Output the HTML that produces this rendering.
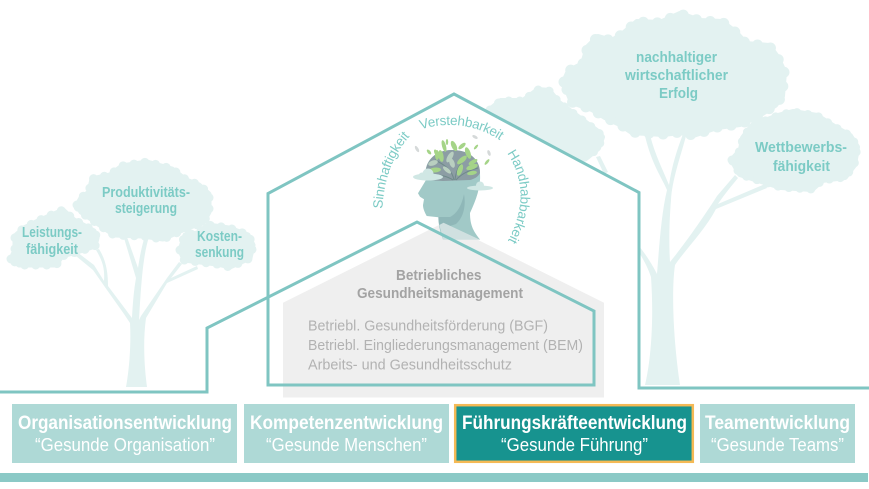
<!DOCTYPE html>
<html><head><meta charset="utf-8"><style>
html,body{margin:0;padding:0;background:#fff}
svg{display:block}
text{font-family:"Liberation Sans",sans-serif}
.t{fill:#7ccbc5;font-weight:700;font-size:14.5px}
.c{fill:#a3a3a3;font-weight:700;font-size:14.5px}
.g{fill:#b2b2b2;font-size:15px}
.h{fill:#fff;font-weight:700;font-size:19px}
.s{fill:#fff;font-size:18px}
.a{fill:#7ccbc5;font-size:13.5px}
.b{stroke:#e3f2f1;stroke-linecap:round;stroke-width:9;stroke-dasharray:0 11;fill:none}
.bb{stroke:#e3f2f1;stroke-linecap:round;stroke-width:11;stroke-dasharray:0 14;fill:none}
</style></head><body>
<svg width="869" height="489" viewBox="0 0 869 489" xmlns="http://www.w3.org/2000/svg">
<rect width="869" height="489" fill="#fff"/>

<!-- left tree -->
<g fill="#e3f2f1">
<path d="M126,387 C130,365 131,340 130,323 L124,314 L107,290 L93,270 L76,256 L77,252 L94,265 L104,281 C105,268 102,260 96,250 L99,249 C106,260 108,272 108,286 L132,318 C133,300 134,290 136,278 L124,238 L127,237 L138,268 C140,255 142,245 145,236 L149,237 C143,255 141,285 139,320 L141,316 L167,278 L179,262 L182,264 L171,278 L197,266 L198,269 L167,283 L146,318 C143,340 144,365 147,387 Z"/>
<g stroke="#e3f2f1" stroke-width="5" stroke-linejoin="round">
<polygon points="77,205 81,198 89,192 92,179 110,175 122,166 147,162 172,169 186,180 199,185 209,194 209,212 203,223 187,228 163,239 143,236 114,235 101,226 81,212"/>
<polygon points="11,259 15,250 15,236 24,228 38,221 63,210 74,220 94,231 97,238 95,246 80,251 62,256 56,265 33,265 19,265"/>
<polygon points="180,250 185,235 198,233 208,225 229,228 248,235 253,245 250,258 230,267 217,264 200,262 184,260"/>
</g>
<polygon class="b" points="77,205 81,198 89,192 92,179 110,175 122,166 147,162 172,169 186,180 199,185 209,194 209,212 203,223 187,228 163,239 143,236 114,235 101,226 81,212"/>
<polygon class="b" points="11,259 15,250 15,236 24,228 38,221 63,210 74,220 94,231 97,238 95,246 80,251 62,256 56,265 33,265 19,265"/>
<polygon class="b" points="180,250 185,235 198,233 208,225 229,228 248,235 253,245 250,258 230,267 217,264 200,262 184,260"/>

<!-- big tree -->
<path d="M645,385 C651,360 654,320 651,277 C648,268 643,258 636,248 L638,245 C644,252 651,262 657,274 C659,250 661,215 667,190 C662,178 652,165 645,136 L650,135 C655,155 663,170 669,185 C672,165 677,150 683,134 L686,136 C681,155 672,180 671,200 C669,225 669,245 670,262 C684,245 705,215 717,196 L735,175 L738,178 C728,190 722,198 718,204 L765,184 L767,188 L716,209 C705,230 685,250 675,265 C672,285 672,330 680,385 Z"/>
<g stroke="#e3f2f1" stroke-width="6" stroke-linejoin="round">
<polygon points="564,82 569,71 583,64 588,47 598,37 612,41 623,34 637,22 660,23 680,14 700,21 722,22 736,33 746,44 769,46 777,57 784,72 782,96 775,105 756,117 740,124 717,127 693,135 680,132 663,134 632,132 620,124 605,117 592,109 572,102"/>
<polygon points="732,160 741,150 743,138 752,126 778,116 793,112 817,116 836,128 850,136 857,147 854,165 845,177 822,180 812,189 781,187 758,180 740,174"/>
<polygon points="490,110 501,101 523,101 538,90 549,91 559,103 598,132 602,137 598,148 587,157 540,160 490,140"/>
</g>
<polygon class="bb" points="564,82 569,71 583,64 588,47 598,37 612,41 623,34 637,22 660,23 680,14 700,21 722,22 736,33 746,44 769,46 777,57 784,72 782,96 775,105 756,117 740,124 717,127 693,135 680,132 663,134 632,132 620,124 605,117 592,109 572,102"/>
<polygon class="b" points="732,160 741,150 743,138 752,126 778,116 793,112 817,116 836,128 850,136 857,147 854,165 845,177 822,180 812,189 781,187 758,180 740,174"/>
<polygon class="b" points="490,110 501,101 523,101 538,90 549,91 559,103 598,132 602,137 598,148 587,157 540,160 490,140"/>
<path d="M596,157 L600,156 L608,172 L604,174 Z"/>
</g>

<!-- white house interiors mask tree -->
<polygon points="268,193 454,94 639,192 639,388 268,388" fill="#fff"/>

<!-- gray house -->
<polygon points="283,302.7 443.5,222.7 604,302.7 604,397.5 283,397.5" fill="#efefef"/>

<!-- head -->
<path d="M425.5,172 C426,160 436,150 452,150 C470,150 480,160 480,173 C481,187 476,200 470,213 C470,226 474,232 480,239.5 L443,239.5 C440,232 438.5,225 438.3,217.3 L426.7,216 C424,211 423,208 423,205 L424,199.3 L420,196.7 L418,193.3 L423,185 L426,180 Z" fill="#a1c9c7"/>
<path d="M425.5,173 C426,160 436,150 452,150 C470,150 480,160 480,173 C478,177 474,179 470,180 L443,181 L427,180 Z" fill="#8c9da4"/>
<path d="M438.5,217 L450,217 C458,213 462,204 464,194 C466,205 464,217 456,224 L447,227 L440,228 C439,224 438.5,221 438.5,217 Z" fill="#8fb7b8"/>
<polygon points="439.3,225 443.5,222.7 480,239.8 443,239.8 441.5,233" fill="#d0e0e0"/>
<g fill="none" stroke="#6f8a8a" stroke-width="1"><path d="M454,180 C452,170 445,165 435,160"/><path d="M455,180 C456,168 462,160 470,155"/><path d="M456,180 C462,173 470,170 478,168"/><path d="M453,180 C447,176 440,175 432,174"/></g>
<g fill="#a5d488">
<ellipse cx="444" cy="146" rx="2" ry="6" transform="rotate(-15 444 146)"/><ellipse cx="454" cy="146" rx="2.5" ry="5.5" transform="rotate(-25 454 146)"/><ellipse cx="462" cy="146" rx="2" ry="4.5" transform="rotate(50 462 146)"/><ellipse cx="437" cy="154" rx="2" ry="5" transform="rotate(-30 437 154)"/><ellipse cx="468" cy="153" rx="2.5" ry="6" transform="rotate(-20 468 153)"/><ellipse cx="472" cy="167" rx="2.5" ry="6" transform="rotate(70 472 167)"/><ellipse cx="472" cy="173" rx="2" ry="5" transform="rotate(80 472 173)"/><ellipse cx="435" cy="170" rx="2.5" ry="6" transform="rotate(85 435 170)"/><ellipse cx="462" cy="160" rx="2.5" ry="6" transform="rotate(50 462 160)"/><ellipse cx="460" cy="170" rx="2.5" ry="6" transform="rotate(20 460 170)"/><ellipse cx="437" cy="155" rx="2" ry="5"/><ellipse cx="441" cy="156" rx="2.5" ry="6" transform="rotate(-10 441 156)"/><ellipse cx="473" cy="162" rx="2" ry="5" transform="rotate(60 473 162)"/><ellipse cx="429" cy="152" rx="1.5" ry="3" transform="rotate(-40 429 152)"/><ellipse cx="447" cy="142" rx="1.2" ry="3"/><ellipse cx="476" cy="147" rx="1.2" ry="3" transform="rotate(40 476 147)"/><ellipse cx="487" cy="162" rx="1.3" ry="3.5" transform="rotate(40 487 162)"/></g>
<g fill="#b9cfc0"><ellipse cx="433" cy="163" rx="2.5" ry="5" transform="rotate(70 433 163)"/><ellipse cx="450" cy="157" rx="2.5" ry="6" transform="rotate(30 450 157)"/><ellipse cx="452" cy="163" rx="2.5" ry="5" transform="rotate(-20 452 163)"/><ellipse cx="447" cy="170" rx="2" ry="5" transform="rotate(-50 447 170)"/></g>
<g fill="#d0e7e4"><ellipse cx="428" cy="177" rx="15" ry="3.5"/><circle cx="428" cy="174" r="5.5"/><circle cx="422" cy="176" r="3.5"/><ellipse cx="480" cy="188" rx="13" ry="2.5"/><circle cx="480" cy="185.5" r="4"/></g>
<g fill="#d5d9d9"><ellipse cx="417" cy="149" rx="1.5" ry="3.5" transform="rotate(-30 417 149)"/><ellipse cx="475" cy="137" rx="3" ry="1.5" transform="rotate(30 475 137)"/><ellipse cx="489" cy="153" rx="1.5" ry="3" transform="rotate(-20 489 153)"/></g>

<!-- curved labels -->
<defs>
<path id="p1" d="M382.3,209 Q385,160 414,132"/>
<path id="p2" d="M421,129.5 A91,91 0 0 1 510,148"/>
<path id="p3" d="M507,153 Q535,195 505,246"/>
</defs>
<text class="a" letter-spacing="-0.15"><textPath href="#p1">Sinnhaftigkeit</textPath></text>
<text class="a" letter-spacing="-0.3"><textPath href="#p2">Verstehbarkeit</textPath></text>
<text class="a" letter-spacing="-0.2"><textPath href="#p3">Handhabbarkeit</textPath></text>

<!-- lines -->
<g fill="none" stroke="#7fc5c2" stroke-width="3" stroke-linejoin="miter">
<path d="M0,392 H207 V328 L417,222 L594,311 V385 H268 V193.5 L454,94 L639,192.5 V388 H869"/>
</g>

<!-- tree labels -->
<text class="t" x="102" y="197" textLength="88" lengthAdjust="spacingAndGlyphs">Produktivitäts-</text>
<text class="t" x="115" y="213" textLength="62" lengthAdjust="spacingAndGlyphs">steigerung</text>
<text class="t" x="22" y="237" textLength="60" lengthAdjust="spacingAndGlyphs">Leistungs-</text>
<text class="t" x="26" y="254" textLength="52" lengthAdjust="spacingAndGlyphs">fähigkeit</text>
<text class="t" x="197" y="241" textLength="45" lengthAdjust="spacingAndGlyphs">Kosten-</text>
<text class="t" x="195" y="257" textLength="49" lengthAdjust="spacingAndGlyphs">senkung</text>
<text class="t" x="636" y="62" textLength="81" lengthAdjust="spacingAndGlyphs">nachhaltiger</text>
<text class="t" x="625" y="80" textLength="103" lengthAdjust="spacingAndGlyphs">wirtschaftlicher</text>
<text class="t" x="659" y="98" textLength="39" lengthAdjust="spacingAndGlyphs">Erfolg</text>
<text class="t" x="755" y="152" textLength="92" lengthAdjust="spacingAndGlyphs">Wettbewerbs-</text>
<text class="t" x="773" y="171" textLength="57" lengthAdjust="spacingAndGlyphs">fähigkeit</text>

<!-- center labels -->
<text class="c" x="396" y="280" textLength="85.5" lengthAdjust="spacingAndGlyphs">Betriebliches</text>
<text class="c" x="357" y="298" textLength="166" lengthAdjust="spacingAndGlyphs">Gesundheitsmanagement</text>
<text class="g" x="308" y="330.5" textLength="240" lengthAdjust="spacingAndGlyphs">Betriebl. Gesundheitsförderung (BGF)</text>
<text class="g" x="308" y="350" textLength="275" lengthAdjust="spacingAndGlyphs">Betriebl. Eingliederungsmanagement (BEM)</text>
<text class="g" x="308" y="369.5" textLength="204" lengthAdjust="spacingAndGlyphs">Arbeits- und Gesundheitsschutz</text>

<!-- boxes -->
<rect x="12" y="404" width="225" height="59" fill="#aed9d6"/>
<rect x="244" y="404" width="205" height="59" fill="#aed9d6"/>
<rect x="455.2" y="405.2" width="237.6" height="56.6" fill="#17938f" stroke="#f5b955" stroke-width="2.5"/>
<rect x="700" y="404" width="155" height="59" fill="#aed9d6"/>
<rect x="0" y="473" width="868" height="9" fill="#8bc9c6"/>

<text class="h" x="18" y="429" textLength="214" lengthAdjust="spacingAndGlyphs">Organisationsentwicklung</text>
<text class="s" x="35" y="451" textLength="180" lengthAdjust="spacingAndGlyphs">“Gesunde Organisation”</text>
<text class="h" x="250" y="429" textLength="193" lengthAdjust="spacingAndGlyphs">Kompetenzentwicklung</text>
<text class="s" x="266" y="451" textLength="161" lengthAdjust="spacingAndGlyphs">“Gesunde Menschen”</text>
<text class="h" x="462" y="429" textLength="225" lengthAdjust="spacingAndGlyphs">Führungskräfteentwicklung</text>
<text class="s" x="501" y="451" textLength="147" lengthAdjust="spacingAndGlyphs">“Gesunde Führung”</text>
<text class="h" x="705" y="429" textLength="145" lengthAdjust="spacingAndGlyphs">Teamentwicklung</text>
<text class="s" x="711" y="451" textLength="133" lengthAdjust="spacingAndGlyphs">“Gesunde Teams”</text>
</svg>
</body></html>
